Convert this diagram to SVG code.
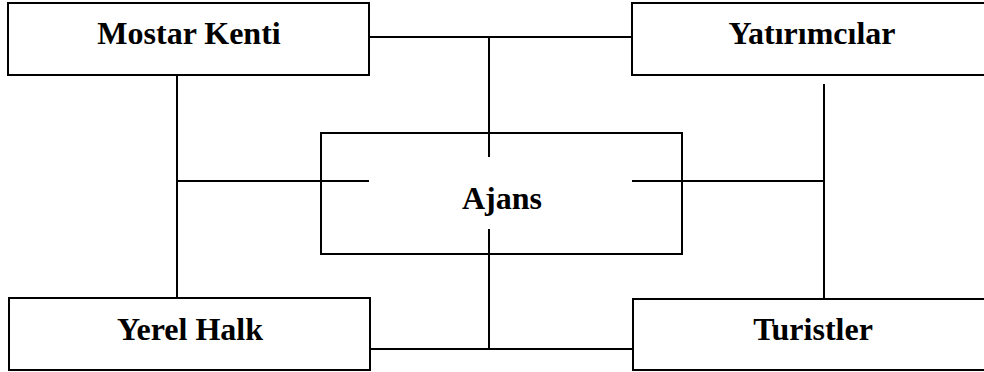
<svg xmlns="http://www.w3.org/2000/svg" width="984" height="372" viewBox="0 0 984 372">
  <style>
    .box { fill: #ffffff; stroke: #000000; stroke-width: 2; }
    .open { fill: none; stroke: #000000; stroke-width: 2; }
    .lbl { font-family: "Liberation Serif", "Times New Roman", serif; font-weight: bold; font-size: 32px; fill: #000000; text-anchor: middle; }
    .wire { stroke: #000000; stroke-width: 2; fill: none; }
  </style>
  <rect x="0" y="0" width="984" height="372" fill="#ffffff"/>

  <g id="connectors">
    <!-- top bus between Mostar Kenti and Yatırımcılar, dropping into Ajans -->
    <line class="wire" x1="369" y1="37" x2="632" y2="37"/>
    <line class="wire" x1="489" y1="37" x2="489" y2="157"/>
    <!-- left side: Mostar Kenti to Yerel Halk, branch into Ajans -->
    <line class="wire" x1="177" y1="75" x2="177" y2="300"/>
    <line class="wire" x1="177" y1="181" x2="369" y2="181"/>
    <!-- right side: Yatırımcılar to Turistler, branch into Ajans -->
    <line class="wire" x1="824" y1="84" x2="824" y2="300"/>
    <line class="wire" x1="632" y1="181" x2="824" y2="181"/>
    <!-- bottom bus between Yerel Halk and Turistler, rising into Ajans -->
    <line class="wire" x1="489" y1="229" x2="489" y2="349"/>
    <line class="wire" x1="368" y1="349" x2="633" y2="349"/>
  </g>

  <g id="mostar-kenti">
    <rect class="box" x="8" y="3" width="361" height="72"/>
    <text class="lbl" x="189" y="44">Mostar Kenti</text>
  </g>

  <g id="yatirimcilar">
    <rect class="box" x="632" y="3" width="360" height="72"/>
    <text class="lbl" x="812" y="44">Yatırımcılar</text>
  </g>

  <g id="ajans">
    <rect class="open" x="321" y="133" width="361" height="121"/>
    <text class="lbl" x="502" y="209">Ajans</text>
  </g>

  <g id="yerel-halk">
    <rect class="box" x="9" y="298" width="361" height="72"/>
    <text class="lbl" x="190" y="340">Yerel Halk</text>
  </g>

  <g id="turistler">
    <rect class="box" x="633" y="299" width="360" height="71"/>
    <text class="lbl" x="813" y="340">Turistler</text>
  </g>
</svg>
